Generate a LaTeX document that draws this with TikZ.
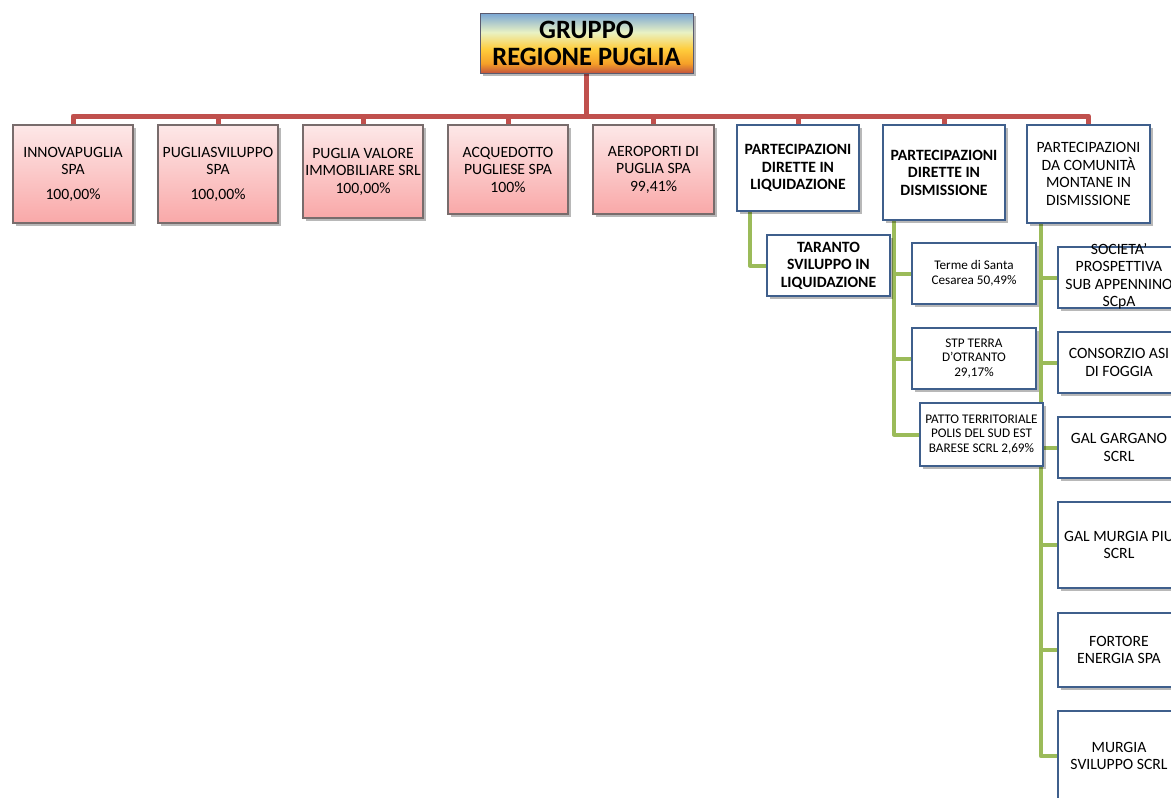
\documentclass[tikz,border=0pt]{standalone}
\usepackage{fontspec}
\setmainfont{Carlito}
\usetikzlibrary{shadows,calc,backgrounds}
\definecolor{redln}{RGB}{192,80,77}
\definecolor{greenln}{RGB}{155,187,89}
\definecolor{bluebd}{RGB}{63,95,140}
\definecolor{pinktop}{RGB}{253,232,232}
\definecolor{pinkbot}{RGB}{249,168,168}
\definecolor{pinkbd}{RGB}{120,108,108}
\definecolor{sunred}{RGB}{196,84,60}
\definecolor{sunorange}{RGB}{245,160,40}
\definecolor{sunyellow}{RGB}{255,205,60}
\definecolor{sunpale}{RGB}{233,242,196}
\definecolor{sunblue}{RGB}{120,165,212}
\pgfdeclareverticalshading{sunset}{100bp}{color(0bp)=(sunred); color(25bp)=(sunred); color(33bp)=(sunorange); color(45bp)=(sunyellow); color(59bp)=(sunpale); color(75bp)=(sunblue); color(100bp)=(sunblue)}
\newcommand\regfnt{\fontsize{15.7}{17.5}\selectfont}
\newcommand\boldfnt{\fontsize{15.7}{17.5}\selectfont\bfseries}
\newcommand\smallfnt{\fontsize{13.2}{14.8}\selectfont}
\newcommand\titlefnt{\fontsize{26.5}{27}\selectfont\bfseries}
\tikzset{
  shad/.style={drop shadow={shadow xshift=2.5pt, shadow yshift=-3pt, opacity=0.28, fill=black}},
  titlebox/.style={draw={rgb,255:red,90;green,90;blue,110}, line width=1pt, shading=sunset, shad,
    minimum width=213pt, minimum height=60pt, align=center, font=\titlefnt, inner sep=1pt},
  pinkbox/.style={draw=pinkbd, line width=1.2pt, top color=pinktop, bottom color=pinkbot, shad,
    minimum width=120pt, align=center, font=\regfnt, inner sep=2pt},
  bluebox/.style={draw=bluebd, line width=2.4pt, fill=white, shad,
    minimum width=122pt, align=center, font=\regfnt, inner sep=2pt},
  redline/.style={draw=redln, line width=5pt, line join=round},
  greenline/.style={draw=greenln, line width=4pt, line join=round},
  txt/.style={align=center, inner sep=0pt}
}
\begin{document}
\begin{tikzpicture}[x=1pt,y=-1pt]
\useasboundingbox (0,0) rectangle (1171,798);
\clip (0,0) rectangle (1171,798);
% title
\node[titlebox] (title) at (586.5,43) {GRUPPO\\REGIONE PUGLIA};
% first level
\node[pinkbox, minimum height=98pt] (p1) at (73,174) {INNOVAPUGLIA\\SPA\\[7pt]100,00\%};
\node[pinkbox, minimum height=98pt] (p2) at (218,174) {PUGLIASVILUPPO\\SPA\\[7pt]100,00\%};
\node[pinkbox, minimum height=93pt] (p3) at (363,171.5) {PUGLIA VALORE\\IMMOBILIARE SRL\\100,00\%};
\node[pinkbox, minimum height=89pt] (p4) at (508,169.5) {ACQUEDOTTO\\PUGLIESE SPA\\100\%};
\node[pinkbox, minimum height=89pt, minimum width=121pt] (p5) at (653.5,169.5) {AEROPORTI DI\\PUGLIA SPA\\99,41\%};
\node[bluebox, minimum height=86pt, font=\boldfnt] (b6) at (798,168) {PARTECIPAZIONI\\DIRETTE IN\\LIQUIDAZIONE};
\node[bluebox, minimum height=95pt, font=\boldfnt] (b7) at (944,172.5) {PARTECIPAZIONI\\DIRETTE IN\\DISMISSIONE};
\node[bluebox, minimum height=98pt, minimum width=123pt] (b8) at (1088.5,174) {PARTECIPAZIONI\\DA COMUNITÀ\\MONTANE IN\\DISMISSIONE};
% second level
\node[bluebox, minimum height=61pt, minimum width=123pt, font=\boldfnt] (tar) at (828.5,265.5) {TARANTO\\SVILUPPO IN\\LIQUIDAZIONE};
\node[bluebox, minimum height=61pt, minimum width=124pt, font=\smallfnt] (ter) at (974,273.5) {Terme di Santa\\Cesarea 50,49\%};
\node[bluebox, minimum height=61pt, minimum width=124pt, font=\smallfnt] (stp) at (974,358.5) {STP TERRA\\D'OTRANTO\\29,17\%};
\node[bluebox, minimum height=63pt, minimum width=123pt, font=\smallfnt] (pat) at (981.5,434.5) {PATTO TERRITORIALE\\POLIS DEL SUD EST\\BARESE SCRL 2,69\%};
\node[bluebox, minimum height=61pt] (soc) at (1119,277.5) {};
\node[txt, font=\regfnt] (soct) at (1119,276) {SOCIETA'\\PROSPETTIVA\\SUB APPENNINO\\SCpA};
\node[bluebox, minimum height=61pt] (con) at (1119,362.5) {CONSORZIO ASI\\DI FOGGIA};
\node[bluebox, minimum height=61pt] (gar) at (1119,447.5) {GAL GARGANO\\SCRL};
\node[bluebox, minimum height=86pt] (mur) at (1119,545) {GAL MURGIA PIU\\SCRL};
\node[bluebox, minimum height=74pt] (for) at (1119,650) {FORTORE\\ENERGIA SPA};
\node[bluebox, minimum height=90pt] (msv) at (1119,756) {MURGIA\\SVILUPPO SCRL};
\begin{scope}[on background layer]
% red connectors
\coordinate (bar) at (0,116);
\draw[redline] (title.south) -- (title.south |- bar);
\draw[redline] (p1.north) -- (p1.north |- bar) -- (b8.north |- bar) -- (b8.north);
\foreach \n in {p2,p3,p4,p5,b6,b7} \draw[redline] (\n.north) -- (\n.north |- bar);
% green connectors
\coordinate (g6) at ($(b6.south west)+(14,0)$);
\draw[greenline] (g6) |- (tar.west);
\coordinate (g7) at ($(b7.south west)+(12,0)$);
\foreach \n in {ter,stp,pat} \draw[greenline] (g7) |- (\n.west);
\coordinate (g8) at ($(b8.south west)+(15,0)$);
\foreach \n in {soc,con,gar,mur,for,msv} \draw[greenline] (g8) |- (\n.west);
\end{scope}
\end{tikzpicture}
\end{document}
